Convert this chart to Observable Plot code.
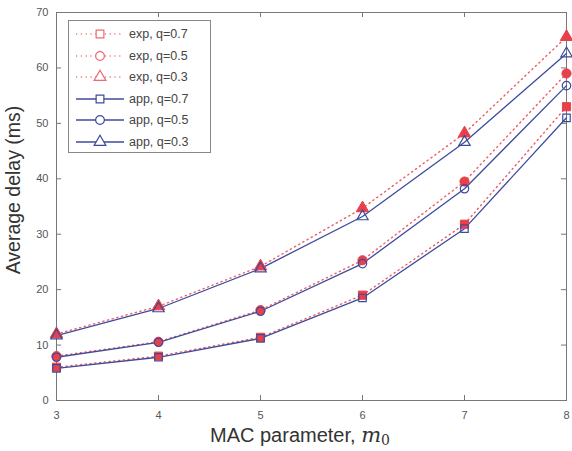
<!DOCTYPE html>
<html><head><meta charset="utf-8">
<script src="https://cdn.jsdelivr.net/npm/d3@7"></script>
<script src="https://cdn.jsdelivr.net/npm/@observablehq/plot@0.6"></script>
<style>body{margin:0;background:#fff}#c{position:relative;width:572px;height:451px}</style>
</head><body><div id="c"></div>
<script>
const mValues = [3, 4, 5, 6, 7, 8];
const expQ07 = [6.0, 8.0, 11.4, 19.0, 31.8, 53.0];
const expQ05 = [8.0, 10.6, 16.3, 25.3, 39.5, 59.0];
const expQ03 = [12.0, 17.0, 24.2, 34.7, 48.2, 65.6];
const appQ07 = [5.8, 7.8, 11.2, 18.5, 31.0, 51.0];
const appQ05 = [7.8, 10.5, 16.1, 24.7, 38.2, 56.8];
const appQ03 = [11.7, 16.6, 23.8, 33.2, 46.6, 62.6];
const seriesNames = ["exp, q=0.7", "exp, q=0.5", "exp, q=0.3", "app, q=0.7", "app, q=0.5", "app, q=0.3"];
const xTicks = [3, 4, 5, 6, 7, 8];
const yTicks = [0, 10, 20, 30, 40, 50, 60, 70];

const RED = "#e8404a", BLUE = "#3d4b9c";
const symbols = ["square", "circle", "triangle"];
const expSeries = [expQ07, expQ05, expQ03];
const appSeries = [appQ07, appQ05, appQ03];
const toRows = (vals, k) => vals.map((v, i) => ({m: mValues[i], v, k}));

const marks = [Plot.frame({stroke: "#777", strokeWidth: 1})];
marks.push(Plot.axisX(xTicks, {anchor: "bottom", tickSize: 0, tickPadding: 11, fontSize: 11, fill: "#555", label: null}));
marks.push(Plot.axisY(yTicks, {anchor: "left", tickSize: 0, tickPadding: 8, fontSize: 11, fill: "#555", label: null}));
marks.push(Plot.ruleX(xTicks, {x: d => d, y1: 0, y2: 0.9, stroke: "#777"}));
marks.push(Plot.ruleX(xTicks, {x: d => d, y1: 69.1, y2: 70, stroke: "#777"}));
marks.push(Plot.ruleY(yTicks, {y: d => d, x1: 3, x2: 3.05, stroke: "#777"}));
marks.push(Plot.ruleY(yTicks, {y: d => d, x1: 7.95, x2: 8, stroke: "#777"}));

expSeries.forEach((s, k) => {
  marks.push(Plot.line(toRows(s, k), {x: "m", y: "v", stroke: RED, strokeWidth: 1.4, strokeDasharray: "1.2,3.6", strokeOpacity: 0.85}));
});
appSeries.forEach((s, k) => {
  marks.push(Plot.line(toRows(s, k), {x: "m", y: "v", stroke: BLUE, strokeWidth: 1.3}));
});
expSeries.forEach((s, k) => {
  marks.push(Plot.dot(toRows(s, k), {x: "m", y: "v", symbol: () => symbols[k], r: 4.6, fill: RED, stroke: RED, strokeWidth: 1}));
});
appSeries.forEach((s, k) => {
  marks.push(Plot.dot(toRows(s, k), {x: "m", y: "v", symbol: () => symbols[k], r: 4.2, fill: "none", stroke: BLUE, strokeWidth: 1.2}));
});

const chart = Plot.plot({
  width: 572, height: 451,
  marginLeft: 56, marginRight: 6, marginTop: 12, marginBottom: 51,
  x: {domain: [3, 8]},
  y: {domain: [0, 70]},
  style: {fontFamily: "Liberation Sans, Arial, sans-serif", background: "#fff"},
  marks
});
document.getElementById("c").appendChild(chart);

const svg = d3.select(chart);
const xl = svg.append("text").attr("x", 300).attr("y", 442).attr("text-anchor", "middle")
  .attr("font-family", "Liberation Sans, Arial, sans-serif").attr("font-size", 20).attr("fill", "#333");
xl.append("tspan").text("MAC parameter, ");
xl.append("tspan").attr("font-family", "DejaVu Serif, serif").attr("font-style", "italic").attr("font-size", 21).text("m");
xl.append("tspan").attr("font-family", "DejaVu Serif, serif").attr("font-size", 14).attr("dy", 3).text("0");
svg.append("text").attr("transform", "translate(20,190) rotate(-90)").attr("text-anchor", "middle")
  .attr("font-family", "Liberation Sans, Arial, sans-serif").attr("font-size", 19.5).attr("fill", "#333")
  .text("Average delay (ms)");

const lg = svg.append("g");
lg.append("rect").attr("x", 68.5).attr("y", 20.5).attr("width", 142).attr("height", 132)
  .attr("fill", "#fff").attr("stroke", "#888").attr("stroke-width", 1);
const rowY = [34, 56, 77, 99, 120, 142];
const symMap = {square: d3.symbolSquare, circle: d3.symbolCircle, triangle: d3.symbolTriangle};
seriesNames.forEach((name, i) => {
  const isExp = i < 3;
  const y = rowY[i];
  lg.append("line").attr("x1", 76).attr("x2", 124).attr("y1", y).attr("y2", y)
    .attr("stroke", isExp ? RED : BLUE).attr("stroke-width", isExp ? 1.4 : 1.3)
    .attr("stroke-dasharray", isExp ? "1.2,3.6" : null).attr("stroke-opacity", isExp ? 0.7 : 1);
  lg.append("path").attr("transform", `translate(100,${y})`)
    .attr("d", d3.symbol(symMap[symbols[i % 3]], 60)())
    .attr("fill", "#fff").attr("stroke", isExp ? "#ee6a72" : BLUE).attr("stroke-width", 1.2);
  lg.append("text").attr("x", 129).attr("y", y + 4).attr("font-size", 12.5).attr("fill", "#444")
    .attr("text-anchor", "start")
    .attr("font-family", "Liberation Sans, Arial, sans-serif").text(name);
});
</script></body></html>
